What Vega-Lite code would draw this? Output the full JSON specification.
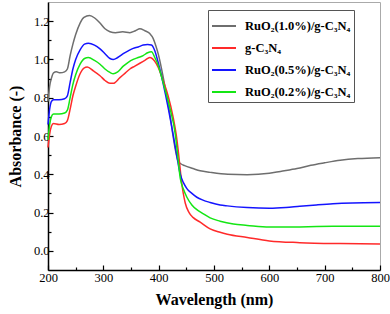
{
  "$schema": "https://vega.github.io/schema/vega-lite/v6.json",
  "width": 332,
  "height": 268,
  "autosize": {"type": "none"},
  "padding": {"left": 48, "top": 2, "right": 10, "bottom": 44},
  "config": {
    "view": {"stroke": "#aaaaaa", "strokeWidth": 1},
    "font": "Liberation Serif",
    "axis": {"labelFont": "Liberation Serif", "titleFont": "Liberation Serif", "labelColor": "#000", "titleColor": "#000", "grid": false, "domainColor": "#000", "domainWidth": 1.5, "tickColor": "#000", "tickWidth": 1.2}
  },
  "datasets": {
    "spectra": [
      {"s": "RuO₂(1.0%)/g-C₃N₄", "w": 200, "a": 0.78}, {"s": "RuO₂(1.0%)/g-C₃N₄", "w": 203, "a": 0.86}, {"s": "RuO₂(1.0%)/g-C₃N₄", "w": 206, "a": 0.9}, {"s": "RuO₂(1.0%)/g-C₃N₄", "w": 210, "a": 0.93}, {"s": "RuO₂(1.0%)/g-C₃N₄", "w": 215, "a": 0.935}, {"s": "RuO₂(1.0%)/g-C₃N₄", "w": 222, "a": 0.93}, {"s": "RuO₂(1.0%)/g-C₃N₄", "w": 230, "a": 0.935}, {"s": "RuO₂(1.0%)/g-C₃N₄", "w": 235, "a": 0.95}, {"s": "RuO₂(1.0%)/g-C₃N₄", "w": 240, "a": 1.02}, {"s": "RuO₂(1.0%)/g-C₃N₄", "w": 245, "a": 1.08}, {"s": "RuO₂(1.0%)/g-C₃N₄", "w": 250, "a": 1.13}, {"s": "RuO₂(1.0%)/g-C₃N₄", "w": 258, "a": 1.19}, {"s": "RuO₂(1.0%)/g-C₃N₄", "w": 265, "a": 1.22}, {"s": "RuO₂(1.0%)/g-C₃N₄", "w": 275, "a": 1.23}, {"s": "RuO₂(1.0%)/g-C₃N₄", "w": 285, "a": 1.215}, {"s": "RuO₂(1.0%)/g-C₃N₄", "w": 294, "a": 1.19}, {"s": "RuO₂(1.0%)/g-C₃N₄", "w": 303, "a": 1.16}, {"s": "RuO₂(1.0%)/g-C₃N₄", "w": 312, "a": 1.145}, {"s": "RuO₂(1.0%)/g-C₃N₄", "w": 322, "a": 1.14}, {"s": "RuO₂(1.0%)/g-C₃N₄", "w": 335, "a": 1.145}, {"s": "RuO₂(1.0%)/g-C₃N₄", "w": 348, "a": 1.14}, {"s": "RuO₂(1.0%)/g-C₃N₄", "w": 358, "a": 1.15}, {"s": "RuO₂(1.0%)/g-C₃N₄", "w": 366, "a": 1.16}, {"s": "RuO₂(1.0%)/g-C₃N₄", "w": 375, "a": 1.15}, {"s": "RuO₂(1.0%)/g-C₃N₄", "w": 384, "a": 1.135}, {"s": "RuO₂(1.0%)/g-C₃N₄", "w": 390, "a": 1.11}, {"s": "RuO₂(1.0%)/g-C₃N₄", "w": 395, "a": 1.07}, {"s": "RuO₂(1.0%)/g-C₃N₄", "w": 400, "a": 1.02}, {"s": "RuO₂(1.0%)/g-C₃N₄", "w": 408, "a": 0.91}, {"s": "RuO₂(1.0%)/g-C₃N₄", "w": 415, "a": 0.8}, {"s": "RuO₂(1.0%)/g-C₃N₄", "w": 420, "a": 0.72}, {"s": "RuO₂(1.0%)/g-C₃N₄", "w": 426, "a": 0.6}, {"s": "RuO₂(1.0%)/g-C₃N₄", "w": 430, "a": 0.53}, {"s": "RuO₂(1.0%)/g-C₃N₄", "w": 435, "a": 0.47}, {"s": "RuO₂(1.0%)/g-C₃N₄", "w": 440, "a": 0.455}, {"s": "RuO₂(1.0%)/g-C₃N₄", "w": 447, "a": 0.445}, {"s": "RuO₂(1.0%)/g-C₃N₄", "w": 462, "a": 0.43}, {"s": "RuO₂(1.0%)/g-C₃N₄", "w": 475, "a": 0.418}, {"s": "RuO₂(1.0%)/g-C₃N₄", "w": 493, "a": 0.41}, {"s": "RuO₂(1.0%)/g-C₃N₄", "w": 525, "a": 0.4}, {"s": "RuO₂(1.0%)/g-C₃N₄", "w": 560, "a": 0.398}, {"s": "RuO₂(1.0%)/g-C₃N₄", "w": 600, "a": 0.405}, {"s": "RuO₂(1.0%)/g-C₃N₄", "w": 620, "a": 0.415}, {"s": "RuO₂(1.0%)/g-C₃N₄", "w": 650, "a": 0.43}, {"s": "RuO₂(1.0%)/g-C₃N₄", "w": 675, "a": 0.447}, {"s": "RuO₂(1.0%)/g-C₃N₄", "w": 700, "a": 0.46}, {"s": "RuO₂(1.0%)/g-C₃N₄", "w": 728, "a": 0.473}, {"s": "RuO₂(1.0%)/g-C₃N₄", "w": 760, "a": 0.482}, {"s": "RuO₂(1.0%)/g-C₃N₄", "w": 800, "a": 0.487},

      {"s": "g-C₃N₄", "w": 200, "a": 0.54}, {"s": "g-C₃N₄", "w": 203, "a": 0.61}, {"s": "g-C₃N₄", "w": 206, "a": 0.65}, {"s": "g-C₃N₄", "w": 210, "a": 0.665}, {"s": "g-C₃N₄", "w": 220, "a": 0.66}, {"s": "g-C₃N₄", "w": 230, "a": 0.665}, {"s": "g-C₃N₄", "w": 235, "a": 0.68}, {"s": "g-C₃N₄", "w": 240, "a": 0.74}, {"s": "g-C₃N₄", "w": 245, "a": 0.81}, {"s": "g-C₃N₄", "w": 250, "a": 0.86}, {"s": "g-C₃N₄", "w": 258, "a": 0.925}, {"s": "g-C₃N₄", "w": 265, "a": 0.955}, {"s": "g-C₃N₄", "w": 271, "a": 0.96}, {"s": "g-C₃N₄", "w": 282, "a": 0.94}, {"s": "g-C₃N₄", "w": 294, "a": 0.915}, {"s": "g-C₃N₄", "w": 303, "a": 0.89}, {"s": "g-C₃N₄", "w": 312, "a": 0.875}, {"s": "g-C₃N₄", "w": 318, "a": 0.875}, {"s": "g-C₃N₄", "w": 330, "a": 0.905}, {"s": "g-C₃N₄", "w": 340, "a": 0.93}, {"s": "g-C₃N₄", "w": 348, "a": 0.95}, {"s": "g-C₃N₄", "w": 357, "a": 0.965}, {"s": "g-C₃N₄", "w": 366, "a": 0.98}, {"s": "g-C₃N₄", "w": 375, "a": 0.995}, {"s": "g-C₃N₄", "w": 384, "a": 1.01}, {"s": "g-C₃N₄", "w": 393, "a": 0.99}, {"s": "g-C₃N₄", "w": 399, "a": 0.96}, {"s": "g-C₃N₄", "w": 408, "a": 0.89}, {"s": "g-C₃N₄", "w": 417, "a": 0.81}, {"s": "g-C₃N₄", "w": 426, "a": 0.7}, {"s": "g-C₃N₄", "w": 433, "a": 0.58}, {"s": "g-C₃N₄", "w": 437, "a": 0.48}, {"s": "g-C₃N₄", "w": 441, "a": 0.37}, {"s": "g-C₃N₄", "w": 448, "a": 0.25}, {"s": "g-C₃N₄", "w": 455, "a": 0.2}, {"s": "g-C₃N₄", "w": 462, "a": 0.175}, {"s": "g-C₃N₄", "w": 475, "a": 0.15}, {"s": "g-C₃N₄", "w": 493, "a": 0.115}, {"s": "g-C₃N₄", "w": 511, "a": 0.097}, {"s": "g-C₃N₄", "w": 524, "a": 0.087}, {"s": "g-C₃N₄", "w": 560, "a": 0.07}, {"s": "g-C₃N₄", "w": 600, "a": 0.052}, {"s": "g-C₃N₄", "w": 655, "a": 0.043}, {"s": "g-C₃N₄", "w": 728, "a": 0.038}, {"s": "g-C₃N₄", "w": 800, "a": 0.036},

      {"s": "RuO₂(0.5%)/g-C₃N₄", "w": 200, "a": 0.66}, {"s": "RuO₂(0.5%)/g-C₃N₄", "w": 203, "a": 0.74}, {"s": "RuO₂(0.5%)/g-C₃N₄", "w": 206, "a": 0.78}, {"s": "RuO₂(0.5%)/g-C₃N₄", "w": 210, "a": 0.79}, {"s": "RuO₂(0.5%)/g-C₃N₄", "w": 220, "a": 0.79}, {"s": "RuO₂(0.5%)/g-C₃N₄", "w": 230, "a": 0.795}, {"s": "RuO₂(0.5%)/g-C₃N₄", "w": 235, "a": 0.81}, {"s": "RuO₂(0.5%)/g-C₃N₄", "w": 240, "a": 0.88}, {"s": "RuO₂(0.5%)/g-C₃N₄", "w": 245, "a": 0.95}, {"s": "RuO₂(0.5%)/g-C₃N₄", "w": 250, "a": 1.0}, {"s": "RuO₂(0.5%)/g-C₃N₄", "w": 258, "a": 1.05}, {"s": "RuO₂(0.5%)/g-C₃N₄", "w": 266, "a": 1.08}, {"s": "RuO₂(0.5%)/g-C₃N₄", "w": 273, "a": 1.085}, {"s": "RuO₂(0.5%)/g-C₃N₄", "w": 284, "a": 1.075}, {"s": "RuO₂(0.5%)/g-C₃N₄", "w": 294, "a": 1.055}, {"s": "RuO₂(0.5%)/g-C₃N₄", "w": 303, "a": 1.03}, {"s": "RuO₂(0.5%)/g-C₃N₄", "w": 312, "a": 1.005}, {"s": "RuO₂(0.5%)/g-C₃N₄", "w": 318, "a": 1.0}, {"s": "RuO₂(0.5%)/g-C₃N₄", "w": 326, "a": 1.01}, {"s": "RuO₂(0.5%)/g-C₃N₄", "w": 336, "a": 1.03}, {"s": "RuO₂(0.5%)/g-C₃N₄", "w": 345, "a": 1.045}, {"s": "RuO₂(0.5%)/g-C₃N₄", "w": 354, "a": 1.058}, {"s": "RuO₂(0.5%)/g-C₃N₄", "w": 363, "a": 1.065}, {"s": "RuO₂(0.5%)/g-C₃N₄", "w": 372, "a": 1.075}, {"s": "RuO₂(0.5%)/g-C₃N₄", "w": 380, "a": 1.078}, {"s": "RuO₂(0.5%)/g-C₃N₄", "w": 387, "a": 1.075}, {"s": "RuO₂(0.5%)/g-C₃N₄", "w": 393, "a": 1.045}, {"s": "RuO₂(0.5%)/g-C₃N₄", "w": 399, "a": 0.985}, {"s": "RuO₂(0.5%)/g-C₃N₄", "w": 408, "a": 0.875}, {"s": "RuO₂(0.5%)/g-C₃N₄", "w": 417, "a": 0.75}, {"s": "RuO₂(0.5%)/g-C₃N₄", "w": 426, "a": 0.61}, {"s": "RuO₂(0.5%)/g-C₃N₄", "w": 432, "a": 0.51}, {"s": "RuO₂(0.5%)/g-C₃N₄", "w": 439, "a": 0.4}, {"s": "RuO₂(0.5%)/g-C₃N₄", "w": 445, "a": 0.355}, {"s": "RuO₂(0.5%)/g-C₃N₄", "w": 451, "a": 0.325}, {"s": "RuO₂(0.5%)/g-C₃N₄", "w": 460, "a": 0.3}, {"s": "RuO₂(0.5%)/g-C₃N₄", "w": 469, "a": 0.28}, {"s": "RuO₂(0.5%)/g-C₃N₄", "w": 480, "a": 0.265}, {"s": "RuO₂(0.5%)/g-C₃N₄", "w": 493, "a": 0.253}, {"s": "RuO₂(0.5%)/g-C₃N₄", "w": 511, "a": 0.24}, {"s": "RuO₂(0.5%)/g-C₃N₄", "w": 524, "a": 0.235}, {"s": "RuO₂(0.5%)/g-C₃N₄", "w": 560, "a": 0.226}, {"s": "RuO₂(0.5%)/g-C₃N₄", "w": 600, "a": 0.222}, {"s": "RuO₂(0.5%)/g-C₃N₄", "w": 630, "a": 0.226}, {"s": "RuO₂(0.5%)/g-C₃N₄", "w": 655, "a": 0.233}, {"s": "RuO₂(0.5%)/g-C₃N₄", "w": 685, "a": 0.24}, {"s": "RuO₂(0.5%)/g-C₃N₄", "w": 715, "a": 0.246}, {"s": "RuO₂(0.5%)/g-C₃N₄", "w": 750, "a": 0.25}, {"s": "RuO₂(0.5%)/g-C₃N₄", "w": 800, "a": 0.252},

      {"s": "RuO₂(0.2%)/g-C₃N₄", "w": 200, "a": 0.58}, {"s": "RuO₂(0.2%)/g-C₃N₄", "w": 203, "a": 0.66}, {"s": "RuO₂(0.2%)/g-C₃N₄", "w": 206, "a": 0.7}, {"s": "RuO₂(0.2%)/g-C₃N₄", "w": 210, "a": 0.715}, {"s": "RuO₂(0.2%)/g-C₃N₄", "w": 220, "a": 0.715}, {"s": "RuO₂(0.2%)/g-C₃N₄", "w": 230, "a": 0.72}, {"s": "RuO₂(0.2%)/g-C₃N₄", "w": 235, "a": 0.735}, {"s": "RuO₂(0.2%)/g-C₃N₄", "w": 240, "a": 0.8}, {"s": "RuO₂(0.2%)/g-C₃N₄", "w": 245, "a": 0.87}, {"s": "RuO₂(0.2%)/g-C₃N₄", "w": 250, "a": 0.92}, {"s": "RuO₂(0.2%)/g-C₃N₄", "w": 258, "a": 0.975}, {"s": "RuO₂(0.2%)/g-C₃N₄", "w": 266, "a": 1.005}, {"s": "RuO₂(0.2%)/g-C₃N₄", "w": 273, "a": 1.01}, {"s": "RuO₂(0.2%)/g-C₃N₄", "w": 284, "a": 0.995}, {"s": "RuO₂(0.2%)/g-C₃N₄", "w": 294, "a": 0.975}, {"s": "RuO₂(0.2%)/g-C₃N₄", "w": 303, "a": 0.95}, {"s": "RuO₂(0.2%)/g-C₃N₄", "w": 312, "a": 0.932}, {"s": "RuO₂(0.2%)/g-C₃N₄", "w": 318, "a": 0.925}, {"s": "RuO₂(0.2%)/g-C₃N₄", "w": 326, "a": 0.935}, {"s": "RuO₂(0.2%)/g-C₃N₄", "w": 336, "a": 0.965}, {"s": "RuO₂(0.2%)/g-C₃N₄", "w": 345, "a": 0.985}, {"s": "RuO₂(0.2%)/g-C₃N₄", "w": 354, "a": 1.0}, {"s": "RuO₂(0.2%)/g-C₃N₄", "w": 363, "a": 1.01}, {"s": "RuO₂(0.2%)/g-C₃N₄", "w": 372, "a": 1.02}, {"s": "RuO₂(0.2%)/g-C₃N₄", "w": 380, "a": 1.035}, {"s": "RuO₂(0.2%)/g-C₃N₄", "w": 387, "a": 1.04}, {"s": "RuO₂(0.2%)/g-C₃N₄", "w": 393, "a": 1.01}, {"s": "RuO₂(0.2%)/g-C₃N₄", "w": 399, "a": 0.97}, {"s": "RuO₂(0.2%)/g-C₃N₄", "w": 408, "a": 0.88}, {"s": "RuO₂(0.2%)/g-C₃N₄", "w": 420, "a": 0.75}, {"s": "RuO₂(0.2%)/g-C₃N₄", "w": 430, "a": 0.61}, {"s": "RuO₂(0.2%)/g-C₃N₄", "w": 434, "a": 0.51}, {"s": "RuO₂(0.2%)/g-C₃N₄", "w": 439, "a": 0.38}, {"s": "RuO₂(0.2%)/g-C₃N₄", "w": 445, "a": 0.32}, {"s": "RuO₂(0.2%)/g-C₃N₄", "w": 451, "a": 0.28}, {"s": "RuO₂(0.2%)/g-C₃N₄", "w": 460, "a": 0.24}, {"s": "RuO₂(0.2%)/g-C₃N₄", "w": 469, "a": 0.215}, {"s": "RuO₂(0.2%)/g-C₃N₄", "w": 480, "a": 0.195}, {"s": "RuO₂(0.2%)/g-C₃N₄", "w": 493, "a": 0.172}, {"s": "RuO₂(0.2%)/g-C₃N₄", "w": 511, "a": 0.155}, {"s": "RuO₂(0.2%)/g-C₃N₄", "w": 535, "a": 0.14}, {"s": "RuO₂(0.2%)/g-C₃N₄", "w": 560, "a": 0.133}, {"s": "RuO₂(0.2%)/g-C₃N₄", "w": 600, "a": 0.124}, {"s": "RuO₂(0.2%)/g-C₃N₄", "w": 655, "a": 0.125}, {"s": "RuO₂(0.2%)/g-C₃N₄", "w": 715, "a": 0.128}, {"s": "RuO₂(0.2%)/g-C₃N₄", "w": 800, "a": 0.129}
    ]
  },
  "data": {"name": "spectra"},
  "resolve": {"axis": {"x": "independent", "y": "independent"}},
  "layer": [
    {
      "mark": {"type": "line", "strokeWidth": 1.5, "interpolate": "monotone"},
      "encoding": {
        "x": {"field": "w", "type": "quantitative", "scale": {"domain": [200, 800], "nice": false},
          "axis": {"orient": "bottom", "values": [200, 300, 400, 500, 600, 700, 800], "title": "Wavelength (nm)", "titleFontSize": 16, "titleFontWeight": "bold", "titlePadding": 8, "labelFontSize": 12.5, "tickSize": -5, "labelPadding": 6, "labelFlush": false}},
        "y": {"field": "a", "type": "quantitative", "scale": {"domain": [-0.1, 1.3], "nice": false, "zero": false},
          "axis": {"orient": "left", "values": [0, 0.2, 0.4, 0.6, 0.8, 1.0, 1.2], "format": ".1f", "title": "Absorbance (-)", "titleFontSize": 16, "titleFontWeight": "bold", "titlePadding": 10, "labelFontSize": 12.5, "tickSize": -5, "labelPadding": 4}},
        "color": {"field": "s", "type": "nominal", "sort": null,
          "scale": {"domain": ["RuO₂(1.0%)/g-C₃N₄", "g-C₃N₄", "RuO₂(0.5%)/g-C₃N₄", "RuO₂(0.2%)/g-C₃N₄"], "range": ["#6e6e6e", "#ff2a2a", "#1414ff", "#14e614"]},
          "legend": {"title": null, "orient": "none", "legendX": 160, "legendY": 8, "symbolType": "stroke", "symbolSize": 576, "symbolStrokeWidth": 2, "labelOffset": 8, "labelFont": "Liberation Serif", "labelFontSize": 12.5, "labelFontWeight": "bold", "labelColor": "#000", "labelLimit": 200, "rowPadding": 2, "strokeColor": "#555", "fillColor": "white", "padding": 3}}
      }
    },
    {
      "mark": {"type": "point", "opacity": 0},
      "encoding": {
        "x": {"field": "w", "type": "quantitative", "scale": {"domain": [200, 800], "nice": false},
          "axis": {"orient": "bottom", "values": [250, 350, 450, 550, 650, 750], "labels": false, "domain": false, "title": null, "tickSize": -3}},
        "y": {"field": "a", "type": "quantitative", "scale": {"domain": [-0.1, 1.3], "nice": false, "zero": false},
          "axis": {"orient": "left", "values": [0.1, 0.3, 0.5, 0.7, 0.9, 1.1], "labels": false, "domain": false, "title": null, "tickSize": -3}}
      }
    }
  ]
}
